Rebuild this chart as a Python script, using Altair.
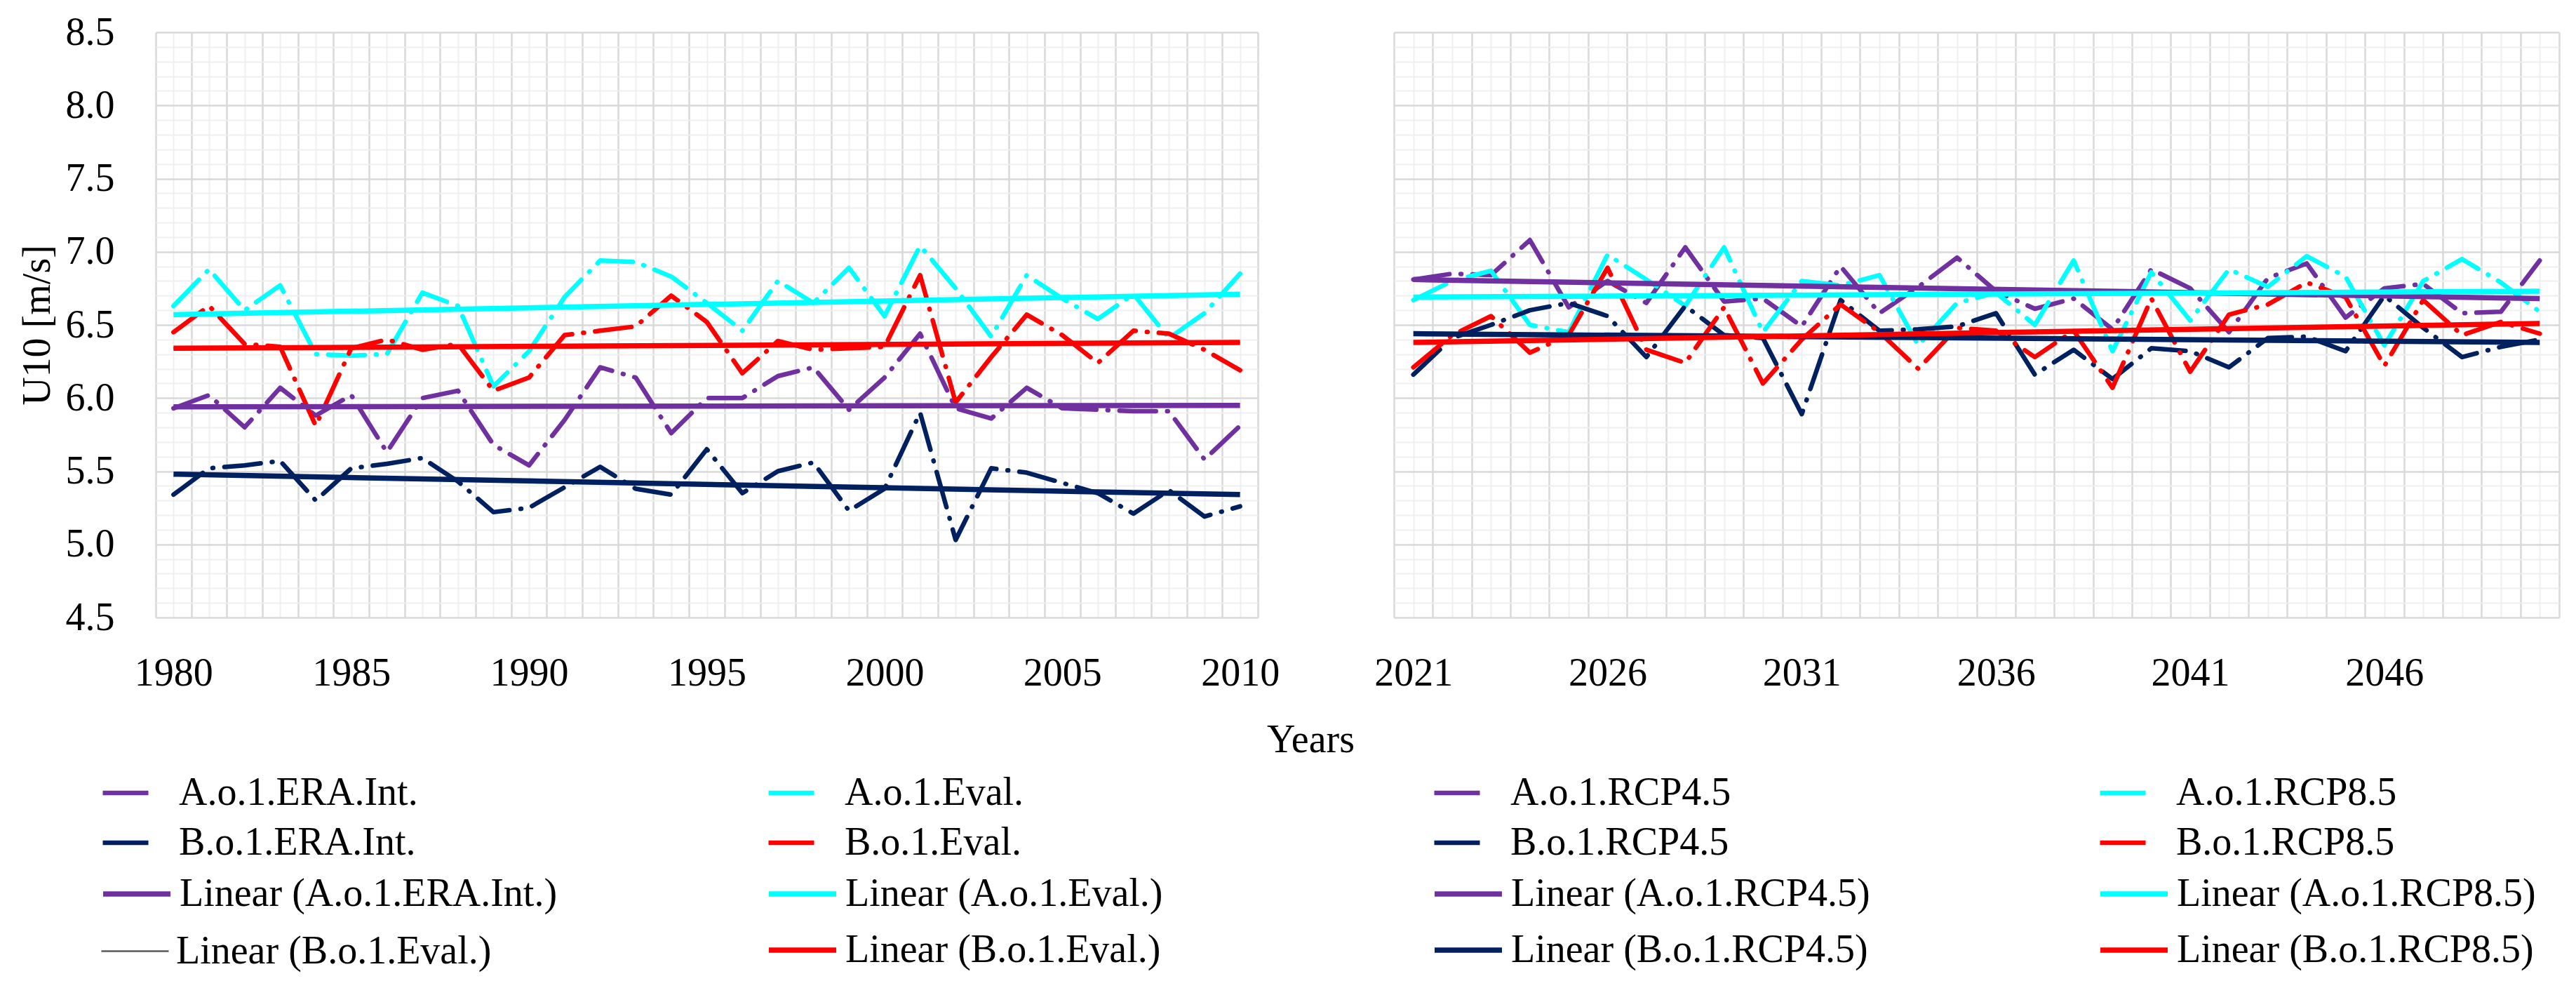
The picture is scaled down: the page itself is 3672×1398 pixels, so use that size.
import altair as alt
import pandas as pd

# ---------------- data ----------------
years_hist = list(range(1980, 2011))
years_fut = list(range(2021, 2051))

a_era_int = [5.93, 6.02, 5.80, 6.07, 5.88, 6.02, 5.63, 6.00, 6.05, 5.68,
             5.54, 5.85, 6.21, 6.14, 5.76, 6.00, 6.00, 6.15, 6.21, 5.92,
             6.14, 6.44, 5.93, 5.86, 6.07, 5.93, 5.92, 5.91, 5.91, 5.58, 5.81]
b_era_int = [5.34, 5.52, 5.54, 5.57, 5.30, 5.52, 5.55, 5.59, 5.43, 5.22,
             5.25, 5.39, 5.53, 5.38, 5.34, 5.65, 5.35, 5.50, 5.56, 5.23,
             5.38, 5.90, 5.03, 5.52, 5.49, 5.42, 5.35, 5.21, 5.37, 5.19, 5.26]
a_eval = [6.63, 6.88, 6.60, 6.77, 6.30, 6.29, 6.30, 6.72, 6.63, 6.08,
          6.32, 6.69, 6.94, 6.93, 6.83, 6.65, 6.46, 6.80, 6.65, 6.89,
          6.56, 7.04, 6.75, 6.42, 6.84, 6.68, 6.54, 6.71, 6.41, 6.58, 6.85]
b_eval = [6.45, 6.63, 6.37, 6.35, 5.81, 6.34, 6.40, 6.33, 6.37, 6.05,
          6.14, 6.43, 6.46, 6.49, 6.70, 6.52, 6.17, 6.39, 6.33, 6.34,
          6.35, 6.84, 5.97, 6.28, 6.57, 6.43, 6.24, 6.46, 6.44, 6.33, 6.19]

a_rcp45 = [6.81, 6.85, 6.84, 7.08, 6.62, 6.80, 6.65, 7.03, 6.66, 6.68,
           6.49, 6.90, 6.58, 6.76, 6.96, 6.73, 6.61, 6.68, 6.47, 6.88,
           6.75, 6.45, 6.82, 6.92, 6.55, 6.75, 6.78, 6.58, 6.59, 6.94]
a_rcp85 = [6.67, 6.80, 6.87, 6.50, 6.45, 6.98, 6.81, 6.63, 7.03, 6.45,
           6.80, 6.77, 6.84, 6.36, 6.65, 6.72, 6.50, 6.94, 6.32, 6.86,
           6.53, 6.88, 6.76, 6.97, 6.83, 6.36, 6.80, 6.95, 6.79, 6.59]
b_rcp45 = [6.16, 6.41, 6.50, 6.60, 6.65, 6.56, 6.28, 6.63, 6.43, 6.41,
           5.89, 6.67, 6.46, 6.47, 6.49, 6.58, 6.16, 6.33, 6.13, 6.34,
           6.32, 6.21, 6.41, 6.42, 6.32, 6.70, 6.48, 6.28, 6.35, 6.40]
b_rcp85 = [6.21, 6.43, 6.56, 6.31, 6.43, 6.89, 6.33, 6.24, 6.62, 6.10,
           6.40, 6.64, 6.45, 6.20, 6.48, 6.46, 6.28, 6.46, 6.07, 6.68,
           6.18, 6.57, 6.64, 6.79, 6.69, 6.22, 6.67, 6.43, 6.52, 6.44]

# linear trend lines: value at first and last year
trend_hist_names = ["Linear (A.o.1.ERA.Int.)", "Linear (A.o.1.Eval.)", "Linear (B.o.1.Eval.)"]
trend_hist_start = [5.94, 6.57, 6.34]
trend_hist_end = [5.95, 6.71, 6.38]
trend_bera_start = 5.48
trend_bera_end = 5.34
trend_fut_names = ["Linear (A.o.1.RCP4.5)", "Linear (A.o.1.RCP8.5)",
                   "Linear (B.o.1.RCP4.5)", "Linear (B.o.1.RCP8.5)"]
trend_fut_start = [6.81, 6.69, 6.44, 6.38]
trend_fut_end = [6.68, 6.73, 6.38, 6.51]

y_ticks = [4.5, 5.0, 5.5, 6.0, 6.5, 7.0, 7.5, 8.0, 8.5]
x_labels_hist = [1980, 1985, 1990, 1995, 2000, 2005, 2010]
x_labels_fut = [2021, 2026, 2031, 2036, 2041, 2046]

# ---------------- styling ----------------
PURPLE, CYAN, NAVY, RED, GRAY = "#7030A0", "#00FFFF", "#002060", "#FF0000", "#595959"
FONT = "Liberation Serif"
FS = 56
DASH = [52, 16, 1, 16]
TREND_W = 7.5

series_domain = ["A.o.1.ERA.Int.", "A.o.1.Eval.", "A.o.1.RCP4.5", "A.o.1.RCP8.5",
                 "B.o.1.ERA.Int.", "B.o.1.Eval.", "B.o.1.RCP4.5", "B.o.1.RCP8.5"]
series_colors = [PURPLE, CYAN, PURPLE, CYAN, NAVY, RED, NAVY, RED]

BLANK = "__blank__"
trend_domain = ["Linear (A.o.1.ERA.Int.)", "Linear (A.o.1.Eval.)",
                "Linear (A.o.1.RCP4.5)", "Linear (A.o.1.RCP8.5)",
                BLANK, "Linear (B.o.1.Eval.)",
                "Linear (B.o.1.RCP4.5)", "Linear (B.o.1.RCP8.5)"]
trend_colors = [PURPLE, CYAN, PURPLE, CYAN, "rgba(0,0,0,0)", RED, NAVY, RED]
gray_name = "Linear (B.o.1.Eval.)"

# ---------------- tables ----------------
def long_table(years, cols):
    rows = []
    for name, vals in cols:
        for y, v in zip(years, vals):
            rows.append({"year": y, "value": v, "series": name})
    return pd.DataFrame(rows)

hist_df = long_table(years_hist, [("A.o.1.ERA.Int.", a_era_int), ("B.o.1.ERA.Int.", b_era_int),
                                  ("A.o.1.Eval.", a_eval), ("B.o.1.Eval.", b_eval)])
fut_df = long_table(years_fut, [("A.o.1.RCP4.5", a_rcp45), ("A.o.1.RCP8.5", a_rcp85),
                                ("B.o.1.RCP4.5", b_rcp45), ("B.o.1.RCP8.5", b_rcp85)])

def trend_table(years, names, starts, ends, key="trend"):
    rows = []
    for n, s, e in zip(names, starts, ends):
        rows.append({"year": years[0], "value": s, key: n})
        rows.append({"year": years[-1], "value": e, key: n})
    return pd.DataFrame(rows)

hist_trend_df = trend_table(years_hist, trend_hist_names, trend_hist_start, trend_hist_end)
bera_trend_df = trend_table(years_hist, ["Linear (B.o.1.ERA.Int.)"], [trend_bera_start], [trend_bera_end])
gray_trend_df = trend_table(years_hist, [gray_name], [trend_hist_start[2]], [trend_hist_end[2]], key="gtrend")
fut_trend_df = trend_table(years_fut, trend_fut_names, trend_fut_start, trend_fut_end)

# ---------------- legends ----------------
common = dict(orient="none", legendX=-79, title=None, symbolType="stroke",
              labelFont=FONT, labelFontSize=FS, labelLimit=2000, labelColor="black",
              direction="horizontal")
legend_series = alt.Legend(legendY=1048, columns=4, gridAlign="all", columnPadding=486,
                           rowPadding=7, symbolSize=4225, symbolStrokeWidth=6.5,
                           labelOffset=40, **common)
legend_trend = alt.Legend(legendY=1176, columns=4, gridAlign="all", columnPadding=286,
                          rowPadding=-26, symbolSize=9216, symbolStrokeWidth=TREND_W,
                          labelOffset=9, labelExpr="datum.label == '__blank__' ? '' : datum.label",
                          **common)
legend_gray = alt.Legend(legendY=1260, symbolSize=9216, symbolStrokeWidth=2.5,
                         symbolStrokeColor=GRAY, labelOffset=9, **common)

def grid_axis(vals, color, w, orient):
    return alt.Axis(values=vals, grid=True, gridColor=color, gridWidth=w, labels=False,
                    ticks=False, domain=False, title=None, orient=orient)

def make_panel(series_df, trend_df, x_dom, label_vals, width, left):
    xs = alt.Scale(domain=x_dom, nice=False, zero=False)
    ys = alt.Scale(domain=[4.5, 8.5], nice=False, zero=False)
    n = int(round(x_dom[1] - x_dom[0]))
    major_x = [x_dom[0] + i for i in range(n + 1)]
    minor_x = [x_dom[0] + 0.5 + i for i in range(n)]
    minor_y = [round(4.5 + 0.1 * i, 1) for i in range(41) if i % 5 != 0]

    minor = alt.Chart(series_df).mark_line(strokeOpacity=0).encode(
        x=alt.X("year:Q", scale=xs, axis=grid_axis(minor_x, "#EFEFEF", 2, "bottom")),
        y=alt.Y("value:Q", scale=ys, axis=grid_axis(minor_y, "#EFEFEF", 2, "left")),
        detail="series:N")
    major = alt.Chart(series_df).mark_line(strokeOpacity=0).encode(
        x=alt.X("year:Q", scale=xs, axis=grid_axis(major_x, "#D9D9D9", 2.5, "bottom")),
        y=alt.Y("value:Q", scale=ys, axis=grid_axis(y_ticks, "#D9D9D9", 2.5, "left")),
        detail="series:N")

    x_axis_kw = dict(values=label_vals, format="d", grid=False, ticks=False, tickSize=0,
                     domain=False, labelFont=FONT, labelFontSize=FS, labelColor="black",
                     labelPadding=52, labelFlush=False, labelOverlap=False, orient="bottom")
    if left:
        x_axis = alt.Axis(title="Years", titleFont=FONT, titleFontSize=FS, titleFontWeight="normal",
                          titleColor="black", titleX=1646, titleY=174, titleAlign="center",
                          titleBaseline="middle", **x_axis_kw)
        y_axis = alt.Axis(values=y_ticks, format=".1f", grid=False, ticks=False, tickSize=0,
                          domain=False, labelFont=FONT, labelFontSize=FS, labelColor="black",
                          labelPadding=59, orient="left", title="U10 [m/s]", titleFont=FONT,
                          titleFontSize=FS, titleFontWeight="normal", titleColor="black",
                          titleX=-169, titleY=417, titleAngle=270, titleAlign="center",
                          titleBaseline="middle")
    else:
        x_axis = alt.Axis(title=None, **x_axis_kw)
        y_axis = None

    lines = alt.Chart(series_df).mark_line(
        strokeWidth=6.5, strokeDash=DASH, strokeCap="round", strokeJoin="round").encode(
        x=alt.X("year:Q", scale=xs, axis=x_axis),
        y=alt.Y("value:Q", scale=ys, axis=y_axis),
        stroke=alt.Stroke("series:N", scale=alt.Scale(domain=series_domain, range=series_colors),
                          legend=legend_series))

    trends = alt.Chart(trend_df).mark_line(strokeCap="butt", strokeWidth=TREND_W).encode(
        x=alt.X("year:Q", scale=xs, axis=None),
        y=alt.Y("value:Q", scale=ys, axis=None),
        color=alt.Color("trend:N", scale=alt.Scale(domain=trend_domain, range=trend_colors),
                        legend=legend_trend))
    layers = [minor, major, lines]
    if left:
        # thin gray trend (drawn beneath the red one, as in the original)
        layers.append(alt.Chart(gray_trend_df).mark_line(strokeWidth=2.5, color=GRAY).encode(
            x=alt.X("year:Q", scale=xs, axis=None),
            y=alt.Y("value:Q", scale=ys, axis=None),
            strokeDash=alt.StrokeDash("gtrend:N", scale=alt.Scale(domain=[gray_name], range=[[1, 0]]),
                                      legend=legend_gray)))
        layers.append(alt.Chart(bera_trend_df).mark_line(strokeWidth=TREND_W, color=NAVY).encode(
            x=alt.X("year:Q", scale=xs, axis=None),
            y=alt.Y("value:Q", scale=ys, axis=None)))
    layers.append(trends)
    return alt.layer(*layers).resolve_axis(x="independent", y="independent").properties(
        width=width, height=834)

left_panel = make_panel(hist_df, hist_trend_df, [1979.5, 2010.5], x_labels_hist, 1571, True)
right_panel = make_panel(fut_df, fut_trend_df, [2020.5, 2050.5], x_labels_fut, 1661, False)

chart = alt.hconcat(left_panel, right_panel, spacing=194, bounds="flush").resolve_scale(
    color="shared", stroke="shared").properties(
    padding={"left": 17, "top": 10, "right": 5, "bottom": 5},
    background="white").configure_view(stroke=None)

chart.save("out.html", embed_options={"renderer": "svg", "actions": False})
